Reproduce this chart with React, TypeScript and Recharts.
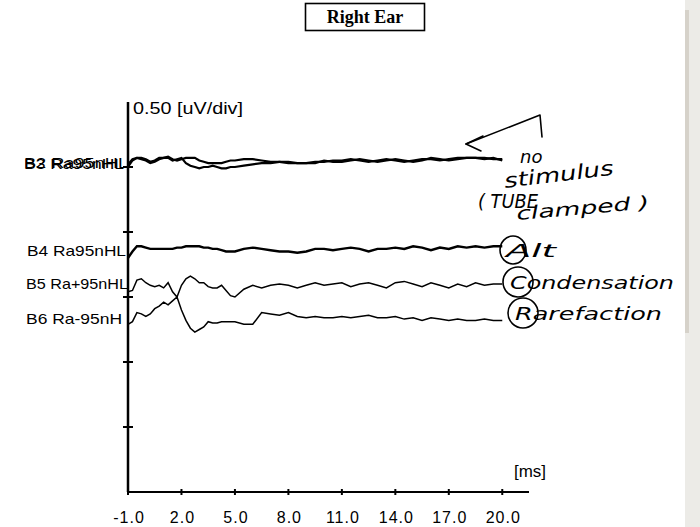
import React from 'react';
import { LineChart, Line, XAxis, YAxis } from 'recharts';

// sample times in ms (finer before 5 ms where the artifact is)
const times = [
  -1, -0.75, -0.5, -0.25, 0, 0.25, 0.5, 0.75, 1, 1.25, 1.5, 1.75, 2, 2.25, 2.5, 2.75, 3, 3.25, 3.5, 3.75, 4, 4.25, 4.5, 4.75, 5,
  5.5, 6, 6.5, 7, 7.5, 8, 8.5, 9, 9.5, 10, 10.5, 11, 11.5, 12, 12.5, 13, 13.5, 14, 14.5, 15, 15.5, 16, 16.5, 17, 17.5, 18, 18.5, 19, 19.5, 20,
];

// trace amplitudes in uV, relative to each trace baseline
const b2 = [
  -0.03, 0.01, 0.02, 0.01, 0, -0.02, -0.01, 0.01, 0.02, 0.02, 0, 0.01, 0.02, -0.02, -0.04, -0.05, -0.06, -0.05, -0.05, -0.04, -0.05, -0.06, -0.06, -0.05, -0.05,
  -0.04, -0.03, -0.02, -0.02, -0.01, -0.01, -0.02, -0.02, -0.02, 0, -0.01, -0.01, 0, 0.01, 0, -0.01, 0, 0.01, 0, -0.01, 0, 0.02, 0.01, 0, 0.01, 0.02, 0.02, 0.01, 0.02, 0,
];
const b3 = [
  -0.05, 0, 0.02, 0.02, 0.01, -0.01, 0, 0.02, 0.02, 0.03, 0.01, 0, 0.01, 0.02, 0.02, 0.02, 0, -0.01, -0.02, -0.02, -0.02, -0.02, -0.01, 0, 0,
  0.01, 0.01, 0, -0.01, -0.01, -0.02, -0.02, -0.02, -0.01, -0.01, 0, 0, 0.01, 0, -0.01, 0, 0.01, 0, -0.01, 0, 0.01, 0.01, 0, 0.01, 0.02, 0.02, 0.02, 0.02, 0.01, 0.01,
];
const b4 = [
  -0.07, -0.02, 0.02, 0.02, 0.01, 0, 0, 0, 0, 0, 0, 0.01, 0.01, 0.02, 0.02, 0.02, 0.02, 0.01, 0.01, 0, 0, -0.01, -0.02, -0.02, -0.02,
  0, 0.01, 0, -0.01, -0.02, -0.02, -0.03, -0.02, 0, 0, -0.01, 0, 0.01, 0, -0.02, 0, 0, 0.01, 0, 0.02, 0.01, -0.01, 0.01, 0, 0.02, 0.01, 0.02, 0.01, 0.02, 0.02,
];
const b5 = [
  -0.05, -0.04, 0.04, 0.05, 0.02, 0, -0.01, 0, -0.02, 0.02, -0.05, -0.09, 0, 0.05, 0.07, 0.05, 0.02, 0.02, -0.01, -0.02, -0.02, 0, -0.04, -0.08, -0.09,
  -0.03, 0, -0.02, 0, 0.01, 0, -0.02, 0, 0.02, 0, 0.01, 0.02, -0.01, 0.01, 0.02, 0, -0.02, 0.02, 0.03, 0.01, -0.01, 0.02, 0, -0.02, 0.01, -0.01, 0.02, 0, 0.01, 0.01,
];
const b6 = [
  -0.05, -0.03, 0.04, 0.03, 0.01, 0.03, 0.07, 0.09, 0.12, 0.1, 0.13, 0.16, 0.06, -0.02, -0.08, -0.11, -0.09, -0.07, -0.03, -0.04, -0.04, -0.03, -0.03, -0.03, -0.03,
  -0.05, -0.05, 0.04, 0.03, 0.02, 0.04, 0.01, 0, 0.01, 0, 0, 0.01, 0, 0.01, 0.02, 0, 0, 0.01, -0.01, 0, -0.02, 0, -0.01, -0.02, -0.01, -0.02, -0.02, -0.01, -0.02, -0.02,
];

// display baselines (uV on the 0.50 uV/div scale)
const baselines = { b2: 2.55, b3: 2.55, b4: 1.87, b5: 1.59, b6: 1.34 };

const traceLabels = ['B2 Ra95nHL', 'B3 Ra95nHL', 'B4 Ra95nHL', 'B5 Ra+95nHL', 'B6 Ra-95nH'];
const xTicks = [-1, 2, 5, 8, 11, 14, 17, 20];
const yTicks = [0.5, 1, 1.5, 2, 2.5];

const rows = times.map((t, i) => ({
  t,
  b2: baselines.b2 + b2[i],
  b3: baselines.b3 + b3[i],
  b4: baselines.b4 + b4[i],
  b5: baselines.b5 + b5[i],
  b6: baselines.b6 + b6[i],
}));

const sans = "'Liberation Sans', Arial, sans-serif";
const hand = "'DejaVu Sans', sans-serif";

const XTick = (props: any) => {
  const { x, y, payload } = props;
  return (
    <g>
      <line x1={x} x2={x} y1={y - 3} y2={y + 3} stroke="#000" strokeWidth={2} />
      <text x={x + 1} y={y + 31} textAnchor="middle" fontSize={16} letterSpacing={1} fontFamily={sans} fill="#000">
        {payload.value.toFixed(1)}
      </text>
    </g>
  );
};

const YTick = (props: any) => {
  const { x, y } = props;
  return <line x1={x - 5} x2={x + 5} y1={y} y2={y} stroke="#000" strokeWidth={2} />;
};

export default function App() {
  return (
    <div style={{ position: 'absolute', left: 0, top: 0, width: 700, height: 527, background: '#fff' }}>
      <LineChart width={700} height={527} data={rows} margin={{ top: 102, right: 171, bottom: 5, left: 28 }}>
        <XAxis
          dataKey="t"
          type="number"
          domain={[-1, 21.5]}
          ticks={xTicks}
          interval={0}
          height={30}
          tickSize={0}
          tickMargin={0}
          tickLine={false}
          axisLine={{ stroke: '#000', strokeWidth: 2 }}
          tick={<XTick />}
        />
        <YAxis
          type="number"
          domain={[0, 3]}
          ticks={yTicks}
          width={100}
          tickSize={0}
          tickMargin={0}
          tickLine={false}
          axisLine={{ stroke: '#000', strokeWidth: 2.5 }}
          tick={<YTick />}
        />
        <Line type="linear" dataKey="b2" stroke="#000" strokeWidth={2.2} dot={false} isAnimationActive={false} />
        <Line type="linear" dataKey="b3" stroke="#000" strokeWidth={2.2} dot={false} isAnimationActive={false} />
        <Line type="linear" dataKey="b4" stroke="#000" strokeWidth={2.4} dot={false} isAnimationActive={false} />
        <Line type="linear" dataKey="b5" stroke="#000" strokeWidth={1.5} dot={false} isAnimationActive={false} />
        <Line type="linear" dataKey="b6" stroke="#000" strokeWidth={1.5} dot={false} isAnimationActive={false} />
      </LineChart>

      <svg width={700} height={527} style={{ position: 'absolute', left: 0, top: 0, pointerEvents: 'none' }}>
        {/* window edge */}
        <rect x={685} y={0} width={15} height={527} fill="#ecebe7" />
        <rect x={685} y={10} width={4} height={323} fill="#d6d2ca" />

        {/* title */}
        <rect x={305.5} y={3.5} width={119} height={27} fill="none" stroke="#000" strokeWidth={1.6} />
        <text x={365} y={23} textAnchor="middle" fontSize={18} fontWeight="bold" fontFamily="'Liberation Serif', 'Times New Roman', serif" fill="#000">
          Right Ear
        </text>

        {/* trace labels */}
        <g fontFamily={sans} fontSize={15} fill="#000">
          <text x={24} y={168} textLength={104} lengthAdjust="spacingAndGlyphs">{traceLabels[0]}</text>
          <text x={24} y={169} textLength={100} lengthAdjust="spacingAndGlyphs">{traceLabels[1]}</text>
          <text x={27} y={256} textLength={99} lengthAdjust="spacingAndGlyphs">{traceLabels[2]}</text>
          <text x={26} y={289} textLength={102} lengthAdjust="spacingAndGlyphs">{traceLabels[3]}</text>
          <text x={26} y={324} textLength={96} lengthAdjust="spacingAndGlyphs">{traceLabels[4]}</text>
          <text x={133} y={114} fontSize={16} textLength={110} lengthAdjust="spacingAndGlyphs">0.50 [uV/div]</text>
          <text x={514} y={477} fontSize={16} textLength={32} lengthAdjust="spacingAndGlyphs">[ms]</text>
        </g>

        {/* handwritten notes */}
        <g fill="none" stroke="#000" strokeWidth={1.6} strokeLinecap="round" strokeLinejoin="round">
          <path d="M 542 137 L 540 115 L 466 144" />
          <path d="M 483 136 L 466 144 L 481 151" />
          <ellipse cx={513} cy={250} rx={13} ry={14} />
          <ellipse cx={518} cy={282} rx={15} ry={15} />
          <ellipse cx={523} cy={313} rx={15} ry={15} />
        </g>
        <g fontFamily={hand} fontStyle="italic" fontWeight={300} fill="#000">
          <text x={520} y={163} fontSize={18}>no</text>
          <text x={505} y={188} fontSize={20} textLength={110} lengthAdjust="spacingAndGlyphs" transform="rotate(-7 505 188)">stimulus</text>
          <text x={478} y={208} fontSize={19} textLength={60} lengthAdjust="spacingAndGlyphs">( TUBE</text>
          <text x={517} y={220} fontSize={18} textLength={133} lengthAdjust="spacingAndGlyphs" transform="rotate(-5 517 220)">clamped )</text>
          <text x={506} y={257} fontSize={18} textLength={50} lengthAdjust="spacingAndGlyphs">Alt</text>
          <text x={510} y={289} fontSize={18} textLength={164} lengthAdjust="spacingAndGlyphs">Condensation</text>
          <text x={515} y={320} fontSize={18} textLength={147} lengthAdjust="spacingAndGlyphs">Rarefaction</text>
        </g>
      </svg>
    </div>
  );
}
